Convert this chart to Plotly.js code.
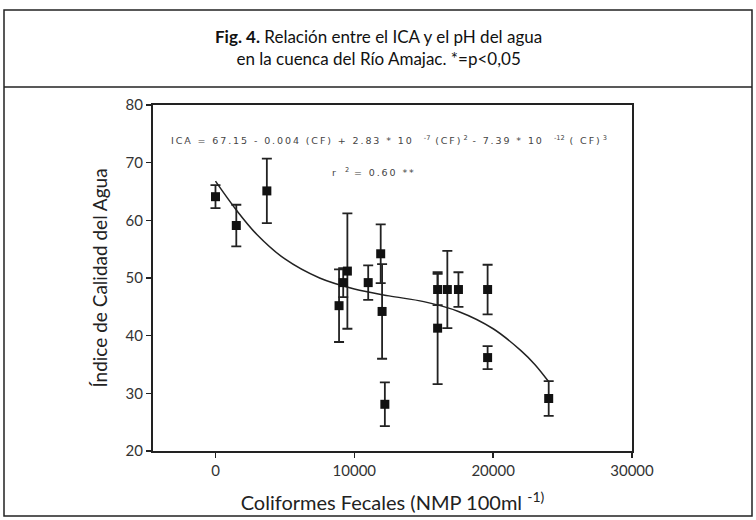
<!DOCTYPE html>
<html>
<head>
<meta charset="utf-8">
<script src="https://cdn.plot.ly/plotly-3.0.1.min.js"></script>
<style>
  html, body { margin: 0; padding: 0; background: #ffffff; }
  #chart { width: 756px; height: 520px; }
</style>
</head>
<body>
<div id="chart"></div>
<script>
// Coliformes fecales (NMP 100 ml-1) and ICA values
var coliformes = [0, 1500, 3700, 8900, 9200, 9500, 11000, 11900, 12000, 12200, 16000, 16000, 16700, 17500, 19600, 19600, 24000];
var ica        = [64.1, 59.1, 65.1, 45.2, 49.2, 51.2, 49.2, 54.2, 44.2, 28.1, 41.3, 48.0, 48.0, 48.0, 48.0, 36.2, 29.1];
var icaError   = [2.0, 3.6, 5.6, 6.3, 2.5, 10.0, 3.0, 5.1, 8.2, 3.8, 9.7, 2.7, 6.7, 3.0, 4.3, 2.0, 3.0];

// Fitted polynomial curve
var fitX = [0, 1500, 3000, 5000, 7500, 10000, 12500, 15000, 17500, 20000, 22000, 23000, 24000];
var fitY = [66.8, 61.8, 57.5, 53.3, 50.0, 48.1, 46.9, 45.9, 44.2, 41.2, 37.4, 35.0, 32.0];

var xTicks = [0, 10000, 20000, 30000];
var yTicks = [20, 30, 40, 50, 60, 70, 80];

var W = 756, H = 520;
var M = {l: 153, r: 124, t: 105, b: 69};
var pw = W - M.l - M.r, ph = H - M.t - M.b;
function px(x) { return (x - M.l) / pw; }
function py(y) { return (H - M.b - y) / ph; }

// letter-spaced text (thin spaces between characters), like the printed equation
function tracked(s) { return s.split('').join('\u2009'); }
var sp = '\u00a0';
function gap(n) { return new Array(n + 1).join(sp); }
function sup(s) { return '<sup>' + s + '</sup>\u2002'; }

var font = 'Lato, "Noto Sans", sans-serif';
var eqFont = '"DejaVu Sans", sans-serif';
var ink = '#1a1a1a';

var eqText = tracked('ICA = 67.15 - 0.004 (CF) + 2.83 * 10') + gap(4) + sup('-7') +
             tracked('(CF)') + gap(1) + sup('2') + tracked('- 7.39 * 10') + gap(4) + sup('-12') +
             tracked('( CF)') + gap(1) + sup('3');
var r2Text = 'r' + gap(3) + sup('2') + tracked('= 0.60 **');

var traces = [
  {
    x: fitX, y: fitY, type: 'scatter', mode: 'lines',
    line: {color: '#222222', width: 1.5, shape: 'spline'},
    hoverinfo: 'skip', showlegend: false
  },
  {
    x: coliformes, y: ica, type: 'scatter', mode: 'markers',
    marker: {symbol: 'square', size: 9, color: '#111111'},
    error_y: {type: 'data', array: icaError, visible: true, color: '#222222', thickness: 1.8, width: 5},
    showlegend: false
  }
];

var layout = {
  width: W, height: H,
  margin: M,
  paper_bgcolor: '#ffffff', plot_bgcolor: '#ffffff',
  font: {family: font, color: ink},
  showlegend: false,
  xaxis: {
    range: [-4500, 30000],
    tickvals: xTicks, ticktext: xTicks.map(String),
    ticks: 'outside', ticklen: 5, tickwidth: 1.5, tickcolor: '#222',
    showline: true, linecolor: '#222', linewidth: 2, mirror: true,
    showgrid: false, zeroline: false,
    tickfont: {family: font, size: 15, color: '#333'},
    title: {text: 'Coliformes Fecales (NMP 100ml <sup>-1)</sup>', font: {family: font, size: 20, color: '#222'}, standoff: 18}
  },
  yaxis: {
    range: [20, 80],
    tickvals: yTicks, ticktext: yTicks.map(String),
    ticks: 'outside', ticklen: 5, tickwidth: 1.5, tickcolor: '#222',
    showline: true, linecolor: '#222', linewidth: 2, mirror: true,
    showgrid: false, zeroline: false,
    tickfont: {family: font, size: 15, color: '#333'},
    title: {text: 'Índice de Calidad del Agua', font: {family: font, size: 19, color: '#222'}, standoff: 13}
  },
  annotations: [
    {
      xref: 'paper', yref: 'paper', x: px(378), y: py(47), xanchor: 'center', yanchor: 'middle',
      text: '<b>Fig. 4.</b> Relación entre el ICA y el pH del agua<br>en la cuenca del Río Amajac. *=p&lt;0,05',
      showarrow: false, align: 'center',
      font: {family: font, size: 17, color: '#111'}
    },
    {
      xref: 'paper', yref: 'paper', x: px(169), y: py(140), xanchor: 'left', yanchor: 'middle',
      text: eqText,
      showarrow: false, font: {family: eqFont, size: 9.5, color: '#444'}
    },
    {
      xref: 'paper', yref: 'paper', x: px(330), y: py(172), xanchor: 'left', yanchor: 'middle',
      text: r2Text,
      showarrow: false, font: {family: eqFont, size: 9.5, color: '#444'}
    }
  ],
  shapes: [
    {type: 'rect', xref: 'paper', yref: 'paper', x0: px(4), x1: px(752), y0: py(516), y1: py(10),
     line: {color: '#222', width: 1.5}, layer: 'below'},
    {type: 'line', xref: 'paper', yref: 'paper', x0: px(4), x1: px(752), y0: py(87), y1: py(87),
     line: {color: '#222', width: 1.5}}
  ]
};

Plotly.newPlot('chart', traces, layout, {staticPlot: true, displayModeBar: false});
</script>
</body>
</html>
